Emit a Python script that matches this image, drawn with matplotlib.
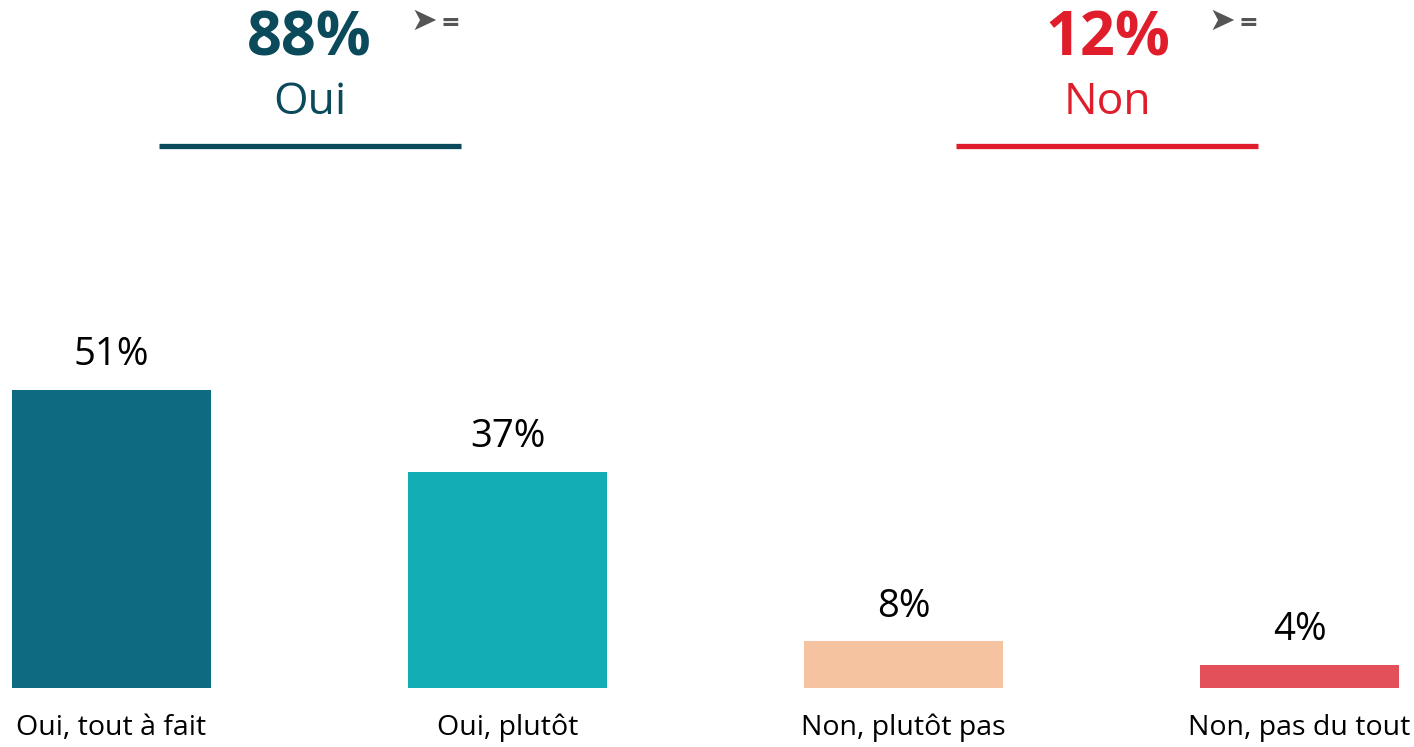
import matplotlib.pyplot as plt

categories = ["Oui, tout à fait", "Oui, plutôt", "Non, plutôt pas", "Non, pas du tout"]
values = [51, 37, 8, 4]
bar_colors = ["#0E6A80", "#13AEB5", "#F6C3A0", "#E4505A"]

group_totals = [88, 12]
group_names = ["Oui", "Non"]
group_colors = ["#0B4A5A", "#E01E2B"]
group_centers = [0.5, 2.515]  # in category units

plt.rcParams['font.family'] = ['Open Sans', 'DejaVu Sans']

W, H = 1414, 747
PX = 5.85  # pixels per percent
fig = plt.figure(figsize=(W / 100, H / 100), dpi=100)
# axes spans full width, baseline 59 px above bottom
ax = fig.add_axes([0, 59 / H, 1, 1 - 59 / H])
spacing = 396.0
ax.set_xlim(-111.5 / spacing, (W - 111.5) / spacing)
ax.set_ylim(0, 688 / PX)
ax.axis('off')

x = range(len(categories))
ax.bar(x, values, width=0.503, color=bar_colors)

for i, v in enumerate(values):
    ax.annotate(f"{v}%", (i, v), xytext=(0, 11), textcoords='offset points',
                ha='center', va='bottom', fontsize=27.5, color='black')
    ax.text(i, -40 / PX, categories[i], ha='center', va='center',
            fontsize=20.5, color='black', clip_on=False)

# header blocks
top = 688 / PX
for c, tot, name, col in zip(group_centers, group_totals, group_names, group_colors):
    ax.text(c, top - 40 / PX, f"{tot}%", ha='center', va='center',
            fontsize=44, fontweight='bold', color=col)
    ax.text(c, top - 103 / PX, name, ha='center', va='center',
            fontsize=32, color=col)
    ax.plot([c - 151 / spacing, c + 151 / spacing], [(688 - 146) / PX] * 2,
            color=col, lw=3.8, solid_capstyle='butt')
    ax.text(c + 114 / spacing, top - 21 / PX, "➤", ha='center', va='center',
            fontsize=23, color='#555555', family='DejaVu Sans')
    ax.text(c + 141 / spacing, top - 23 / PX, "=", ha='center', va='center',
            fontsize=17, fontweight='bold', color='#555555', family='DejaVu Sans')

fig.savefig("out.png", dpi=100, facecolor='white')
